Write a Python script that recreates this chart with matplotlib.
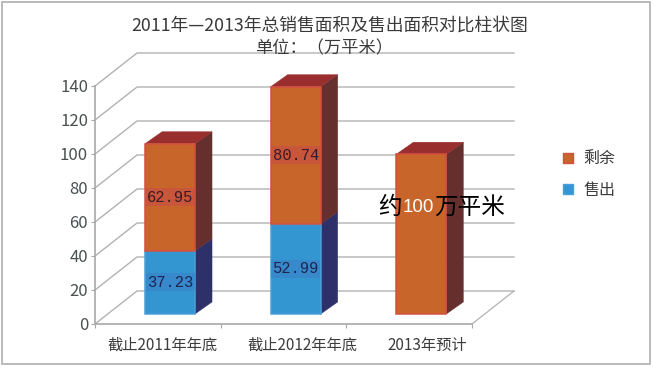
import matplotlib
matplotlib.use('Agg')
import matplotlib.pyplot as plt
from matplotlib.patches import Polygon, Patch, Rectangle

plt.rcParams['font.family'] = ['Noto Sans CJK SC', 'DejaVu Sans']

categories = ['截止2011年年底', '截止2012年年底', '2013年预计']
sold = [37.23, 52.99, 0]
remain = [62.95, 80.74, 94]
remain_labels = ['62.95', '80.74', '']
sold_labels = ['37.23', '52.99', '']
yticks = [0, 20, 40, 60, 80, 100, 120, 140]

W, H = 653, 369
# 前平面的像素范围
left, right, top, bottom = 95, 472, 86, 324
fig = plt.figure(figsize=(W / 100, H / 100), dpi=100)
ax = fig.add_axes([left / W, 1 - bottom / H, (right - left) / W, (bottom - top) / H])
ax.set_xlim(0, 3)
ax.set_ylim(0, 140)
ax.patch.set_alpha(0)

# 外框
fig.add_artist(Rectangle((1.5 / W, 1 - 364 / H), 648 / W, 362 / H, transform=fig.transFigure,
                         fill=False, ec='#b4b4b4', lw=1.3))

px = 3 / (right - left)   # 每像素对应的 x
py = 140 / (bottom - top)  # 每像素对应的 y

# 斜投影的深度
depth_x, depth_y = 42 * px, 33 * py
grid = '#b2b2b2'
for v in yticks:
    ax.plot([0, depth_x, 3 + depth_x], [v, v + depth_y, v + depth_y], color=grid, lw=1.0,
            clip_on=False, zorder=1)
ax.plot([3, 3 + depth_x], [0, depth_y], color=grid, lw=0.9, clip_on=False, zorder=1)


def box(xc, y0, h, face, edge, side, lid=None):
    w = 25 * px
    sx, sy = 17 * px, 12 * py
    x0, x1 = xc - w, xc + w
    ax.add_patch(Polygon([(x1, y0), (x1 + sx, y0 + sy), (x1 + sx, y0 + h + sy), (x1, y0 + h)],
                         fc=side, ec=side, lw=0.3, clip_on=False, zorder=3))
    if lid:
        ax.add_patch(Polygon([(x0, y0 + h), (x0 + sx, y0 + h + sy), (x1 + sx, y0 + h + sy), (x1, y0 + h)],
                             fc=lid, ec=lid, lw=0.3, clip_on=False, zorder=3))
    ax.add_patch(Rectangle((x0, y0), x1 - x0, h, fc=face, ec=edge, lw=1.1, clip_on=False, zorder=4))


base = 10 * py  # 柱底在地板上的抬升
for i in range(len(categories)):
    xc = i + 0.5 + 12.2 * px
    if sold[i]:
        box(xc, base, sold[i], '#3396d0', '#4b9fd9', '#2e3069')
    box(xc, base + sold[i], remain[i], '#c8652b', '#d4503f', '#652f2e', lid='#992e2e')
    if sold_labels[i]:
        ax.text(xc, base + sold[i] / 2, sold_labels[i], ha='center', va='center', fontsize=11.2,
                family=['Liberation Mono', 'DejaVu Sans'], color='#1d2450', zorder=6,
                bbox=dict(fc='#3d7ec8', ec='none', alpha=0.5, pad=1))
    if remain_labels[i]:
        ax.text(xc, base + sold[i] + remain[i] / 2, remain_labels[i], ha='center', va='center', fontsize=11.2,
                family=['Liberation Mono', 'DejaVu Sans'], color='#3a1a2a', zorder=6,
                bbox=dict(fc='#c8484a', ec='none', alpha=0.5, pad=1))

# 约100万平米
yt = (bottom - 207) * py
ax.text((378 - left) * px, yt, '约', fontsize=17, color='black', ha='left', va='center', zorder=7)
ax.text((403 - left) * px, yt, '100', fontsize=13.5, color='white', ha='left', va='center', zorder=7,
        family=['Liberation Sans', 'DejaVu Sans'])
ax.text((434 - left) * px, yt, '万平米', fontsize=17, color='black', ha='left', va='center', zorder=7)

# 坐标轴
for s in ['top', 'right']:
    ax.spines[s].set_visible(False)
for s in ['left', 'bottom']:
    ax.spines[s].set_color('#a8a8a8')
    ax.spines[s].set_linewidth(1.2)
ax.set_yticks(yticks)
ax.tick_params(axis='y', colors='#a8a8a8', labelcolor='#4a5050', labelsize=12, length=3, pad=2)
ax.set_xticks([0, 1, 2, 3])
ax.set_xticklabels([])
ax.tick_params(axis='x', colors='#a8a8a8', length=3)
# 类别标签并不严格居中
ax.set_xticks([(162 - left) * px, (302.5 - left) * px, (427 - left) * px], minor=True)
ax.set_xticklabels(categories, minor=True, fontsize=11, color='#3c3c3c')
ax.tick_params(axis='x', which='minor', length=0, pad=9)

fig.text(330 / W, 1 - 26 / H, '2011年—2013年总销售面积及售出面积对比柱状图', ha='center', va='center',
         fontsize=12.8, color='#3a3a3a')
fig.text(324 / W, 1 - 48 / H, '单位：（万平米）', ha='center', va='center', fontsize=12.4, color='#3a3a3a')

handles = [Patch(fc='#c8652b', ec='#d4503f', lw=1.0, label='剩余'),
           Patch(fc='#3396d0', ec='#4b9fd9', lw=1.0, label='售出')]
fig.legend(handles=handles, loc='upper left', bbox_to_anchor=(549 / W, 1 - 136 / H), frameon=False,
           fontsize=11.5, handlelength=0.63, handleheight=0.63, handletextpad=0.6, labelspacing=0.9,
           labelcolor='#3c3c3c')

fig.savefig('out.png', dpi=100)
